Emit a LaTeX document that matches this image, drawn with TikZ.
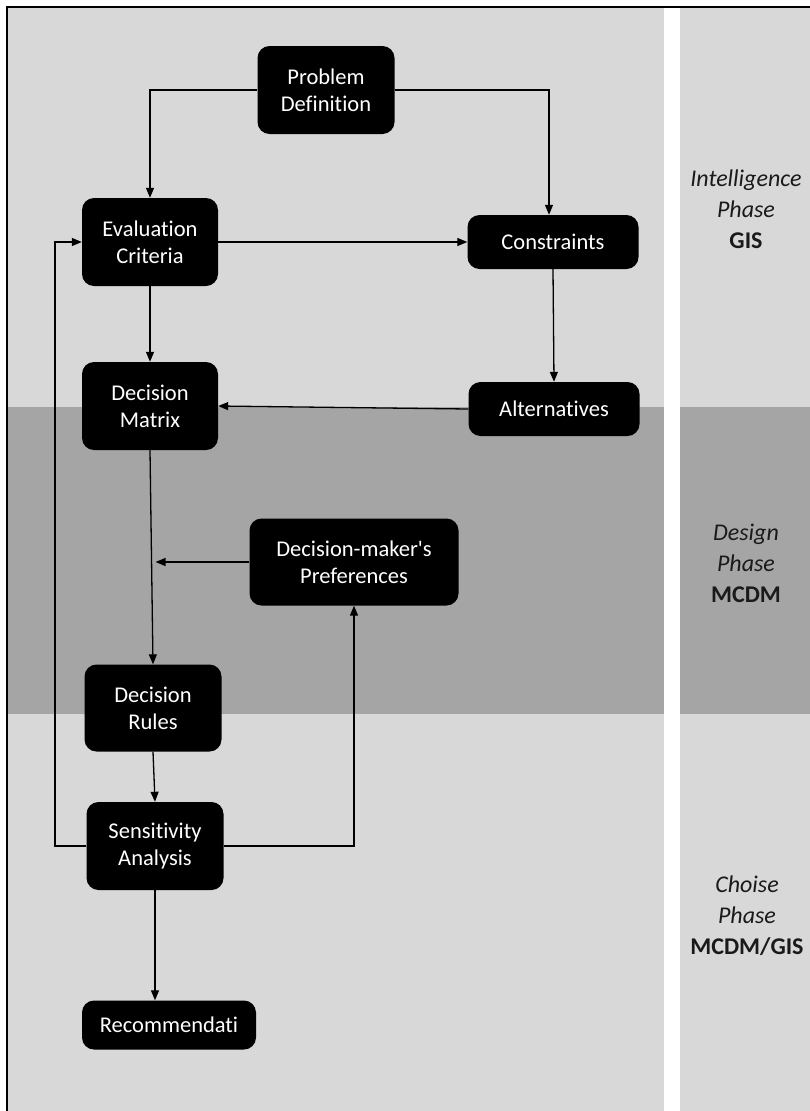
\documentclass[tikz,border=0pt]{standalone}
\usepackage{fontspec}
\setmainfont{Carlito}[Ligatures={NoCommon,NoRare,NoContextual}]
\usetikzlibrary{arrows.meta,calc}
\definecolor{lg}{HTML}{D8D8D8}
\definecolor{dg}{HTML}{A5A5A5}
\definecolor{lbl}{HTML}{1A1A1A}
\tikzset{
  box/.style={fill=black, rounded corners=12pt, text=white, align=center,
    inner sep=0pt, font=\fontsize{22.5}{27}\selectfont},
  arr/.style={draw=black, line width=1.3pt, -{Triangle[length=10pt,width=8pt]}},
  phase/.style={align=center, text=lbl, font=\fontsize{24}{31}\selectfont}
}
\begin{document}
\begin{tikzpicture}[x=1pt,y=-1pt]
\useasboundingbox (0,0) rectangle (810,1111);
\fill[white] (0,0) rectangle (810,1111);
% bands left
\fill[lg] (7,7) rectangle (664,407);
\fill[dg] (7,407) rectangle (664,714);
\fill[lg] (7,714) rectangle (664,1111);
% bands right
\fill[lg] (680,7) rectangle (810,407);
\fill[dg] (680,407) rectangle (810,714);
\fill[lg] (680,714) rectangle (810,1111);
% frame
\draw[line width=2pt] (7,1111) -- (7,7) -- (810,7);

% nodes
\node[box, minimum width=137, minimum height=88] (pd) at (326,90) {Problem\\Definition};
\node[box, minimum width=136, minimum height=88] (ec) at (150,242) {Evaluation\\Criteria};
\node[box, minimum width=171, minimum height=54] (cons) at (553,242) {Constraints};
\node[box, minimum width=136, minimum height=88] (dm) at (150,406) {Decision\\Matrix};
\node[box, minimum width=171, minimum height=54] (alt) at (554,409) {Alternatives};
\node[box, minimum width=209, minimum height=87] (pref) at (354,562) {Decision-maker\textquotesingle s\\Preferences};
\node[box, minimum width=137, minimum height=87] (dr) at (153,708) {Decision\\Rules};
\node[box, minimum width=137, minimum height=88] (sa) at (155,846) {Sensitivity\\Analysis};
\node[box, minimum width=174, minimum height=49] (rec) at (169,1025) {Recommendati};

% phase labels
\node[phase] (p1) at (746,209) {\textit{Intelligence}\\\textit{Phase}\\\textbf{GIS}};
\node[phase] (p2) at (746,563) {\textit{Design}\\\textit{Phase}\\\textbf{MCDM}};
\node[phase] (p3) at (747,916) {\textit{Choise}\\\textit{Phase}\\\textbf{MCDM/GIS}};

% connectors
\coordinate (loopx) at (55,0);
\coordinate (consx) at (549,0);
\draw[arr] (pd.west) -| (ec.north);
\draw[arr] (pd.east) -| (consx |- cons.north);
\draw[arr] (ec.east) -- (cons.west);
\draw[arr] (ec.south) -- (dm.north);
\draw[arr] (cons.south) -- (alt.north);
\draw[arr] (alt.west) -- (dm.east);
\draw[arr] (dm.south) -- (dr.north);
\coordinate (mid) at ($(dm.south)!0.525!(dr.north)$);
\draw[arr] (pref.west) -- ([xshift=4pt]mid |- pref.west);
\draw[arr] (dr.south) -- (sa.north);
\draw[arr] (sa.west) -- (sa.west -| loopx) |- (ec.west);
\draw[arr] (sa.east) -| (pref.south);
\draw[arr] (sa.south) -- (sa.south |- rec.north);
\end{tikzpicture}
\end{document}
